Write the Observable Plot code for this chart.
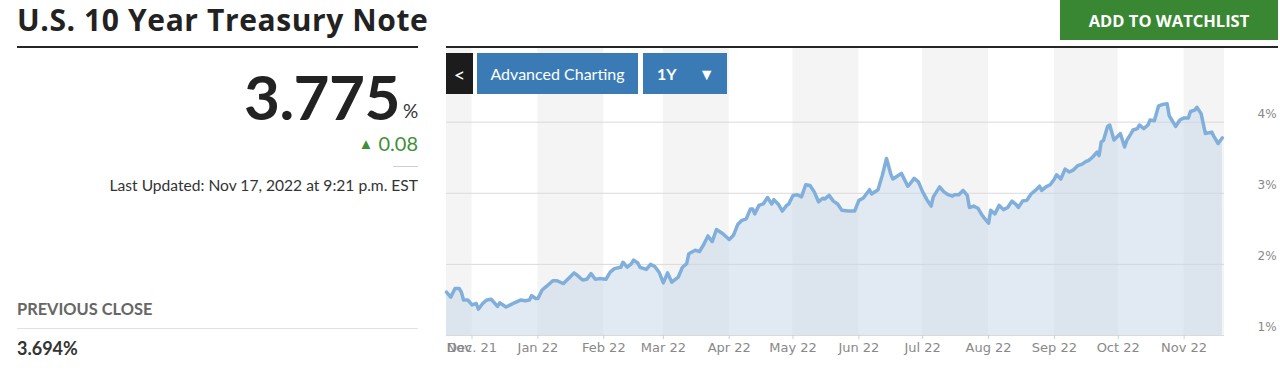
<!DOCTYPE html>
<html><head><meta charset="utf-8">
<script src="https://cdn.jsdelivr.net/npm/d3@7"></script>
<script src="https://cdn.jsdelivr.net/npm/@observablehq/plot@0.6"></script>
<style>
html,body{margin:0;padding:0;background:#fff;}
body{width:1280px;height:375px;overflow:hidden;position:relative;font-family:Lato,"Open Sans",sans-serif;}
.a{position:absolute;white-space:nowrap;line-height:1;}
.btn{position:absolute;display:flex;align-items:center;justify-content:center;color:#fff;}
</style></head><body>
<div class="a" style="left:17px;top:5px;font-family:'Open Sans';font-size:30px;font-weight:700;color:#222;letter-spacing:0.6px">U.S. 10 Year Treasury Note</div>
<div class="a" style="left:17px;top:46px;width:401px;height:2px;background:#262626"></div>
<div class="a" style="right:880px;top:65px;font-size:62px;font-weight:700;color:#222;letter-spacing:-0.5px">3.775</div>
<div class="a" style="left:403px;top:101px;font-size:19px;color:#333">%</div>
<div class="a" style="right:862px;top:133px;font-size:20px;color:#3f8f3a"><span style="font-size:15px;vertical-align:2px">▲</span> 0.08</div>
<div class="a" style="left:393px;top:166px;width:25px;height:1px;background:#cfcfcf"></div>
<div class="a" style="right:862px;top:178px;font-size:15.6px;color:#333">Last Updated: Nov 17, 2022 at 9:21 p.m. EST</div>
<div class="a" style="left:17px;top:301px;font-size:16.4px;font-weight:700;color:#666">PREVIOUS CLOSE</div>
<div class="a" style="left:17px;top:328px;width:401px;height:1px;background:#e2e2e2"></div>
<div class="a" style="left:17px;top:339px;font-size:18px;font-weight:700;color:#333">3.694%</div>

<div class="btn" style="left:1060px;top:0;width:218px;height:40px;background:#3a8733;font-family:'Open Sans';font-size:16.5px;font-weight:700">ADD TO WATCHLIST</div>
<div id="chart" class="a" style="left:446px;top:47px"></div>
<div class="a" style="left:446px;top:46px;width:832px;height:2px;background:#262626"></div>
<div class="btn" style="left:446px;top:53px;width:27px;height:41px;background:#1c1c1c;font-size:20px">&lt;</div>
<div class="btn" style="left:477px;top:53px;width:161px;height:41px;background:#3b7bb5;font-size:16px">Advanced Charting</div>
<div class="btn" style="left:643px;top:53px;width:84px;height:41px;background:#3b7bb5;font-size:16px;font-weight:700;justify-content:flex-start"><span style="margin-left:14px">1Y</span><span style="margin-left:22px;font-size:16px">▼</span></div>

<script>
const dates = ["2021-11-19","2021-11-21","2021-11-23","2021-11-25","2021-11-26","2021-11-27","2021-11-29","2021-12-01","2021-12-03","2021-12-04","2021-12-06","2021-12-08","2021-12-10","2021-12-13","2021-12-14","2021-12-17","2021-12-19","2021-12-21","2021-12-24","2021-12-26","2021-12-28","2021-12-29","2021-12-31","2022-01-01","2022-01-03","2022-01-05","2022-01-08","2022-01-10","2022-01-13","2022-01-16","2022-01-18","2022-01-19","2022-01-22","2022-01-24","2022-01-26","2022-01-28","2022-01-30","2022-02-02","2022-02-04","2022-02-06","2022-02-09","2022-02-10","2022-02-12","2022-02-14","2022-02-15","2022-02-17","2022-02-18","2022-02-21","2022-02-23","2022-02-25","2022-02-27","2022-03-01","2022-03-03","2022-03-05","2022-03-08","2022-03-10","2022-03-12","2022-03-13","2022-03-16","2022-03-18","2022-03-20","2022-03-22","2022-03-24","2022-03-26","2022-03-29","2022-04-01","2022-04-03","2022-04-05","2022-04-07","2022-04-09","2022-04-11","2022-04-12","2022-04-13","2022-04-15","2022-04-17","2022-04-19","2022-04-21","2022-04-22","2022-04-24","2022-04-26","2022-04-28","2022-04-29","2022-05-01","2022-05-03","2022-05-05","2022-05-07","2022-05-09","2022-05-11","2022-05-13","2022-05-15","2022-05-16","2022-05-18","2022-05-20","2022-05-22","2022-05-24","2022-05-27","2022-05-30","2022-06-01","2022-06-03","2022-06-06","2022-06-07","2022-06-10","2022-06-12","2022-06-14","2022-06-16","2022-06-17","2022-06-19","2022-06-21","2022-06-22","2022-06-24","2022-06-25","2022-06-27","2022-06-29","2022-07-01","2022-07-03","2022-07-05","2022-07-06","2022-07-09","2022-07-11","2022-07-13","2022-07-15","2022-07-16","2022-07-18","2022-07-20","2022-07-22","2022-07-23","2022-07-25","2022-07-27","2022-07-29","2022-07-30","2022-08-01","2022-08-02","2022-08-04","2022-08-06","2022-08-08","2022-08-10","2022-08-12","2022-08-14","2022-08-15","2022-08-17","2022-08-19","2022-08-21","2022-08-23","2022-08-25","2022-08-26","2022-08-28","2022-08-30","2022-09-01","2022-09-02","2022-09-04","2022-09-06","2022-09-08","2022-09-10","2022-09-12","2022-09-14","2022-09-16","2022-09-17","2022-09-19","2022-09-21","2022-09-22","2022-09-23","2022-09-24","2022-09-26","2022-09-27","2022-09-29","2022-10-01","2022-10-02","2022-10-04","2022-10-05","2022-10-07","2022-10-08","2022-10-10","2022-10-11","2022-10-13","2022-10-15","2022-10-16","2022-10-18","2022-10-20","2022-10-22","2022-10-24","2022-10-25","2022-10-28","2022-10-30","2022-11-01","2022-11-03","2022-11-04","2022-11-06","2022-11-07","2022-11-09","2022-11-11","2022-11-14","2022-11-15","2022-11-17","2022-11-19"];
const yields = [1.61,1.54,1.66,1.66,1.61,1.50,1.50,1.43,1.45,1.37,1.45,1.50,1.51,1.41,1.46,1.40,1.43,1.46,1.50,1.49,1.50,1.56,1.52,1.52,1.64,1.69,1.77,1.77,1.73,1.82,1.88,1.86,1.78,1.79,1.87,1.79,1.80,1.79,1.89,1.94,1.96,2.03,1.96,2.01,2.06,2.02,1.96,1.93,2.00,1.97,1.89,1.74,1.88,1.75,1.82,1.96,2.01,2.15,2.20,2.18,2.28,2.40,2.32,2.49,2.43,2.35,2.41,2.56,2.62,2.64,2.78,2.78,2.71,2.83,2.85,2.94,2.85,2.91,2.85,2.75,2.83,2.85,2.97,2.98,2.95,3.12,3.11,3.02,2.88,2.93,2.92,2.97,2.89,2.85,2.76,2.75,2.75,2.90,2.93,3.05,2.99,3.05,3.25,3.49,3.27,3.20,3.24,3.28,3.22,3.10,3.13,3.21,3.16,3.02,2.91,2.82,2.95,3.09,3.02,2.98,2.96,2.98,2.98,3.04,2.97,2.80,2.82,2.79,2.69,2.65,2.58,2.76,2.71,2.83,2.77,2.80,2.89,2.84,2.80,2.89,2.90,2.99,3.04,3.10,3.04,3.09,3.12,3.20,3.26,3.20,3.34,3.30,3.33,3.39,3.41,3.45,3.46,3.51,3.58,3.53,3.72,3.74,3.94,3.96,3.75,3.81,3.84,3.65,3.74,3.84,3.89,3.91,3.96,3.91,3.96,4.03,4.02,4.23,4.25,4.26,4.09,3.94,4.03,4.06,4.06,4.15,4.17,4.21,4.12,3.84,3.86,3.80,3.70,3.78];

const xDomain = ["2021-11-19","2022-11-20"];
const yDomain = [1, 5.05];
const monthTicks = ["2021-12-01","2022-01-01","2022-02-01","2022-03-01","2022-04-01","2022-05-01","2022-06-01","2022-07-01","2022-08-01","2022-09-01","2022-10-01","2022-11-01"];
const monthLabels = ["Dec. 21","Jan 22","Feb 22","Mar 22","Apr 22","May 22","Jun 22","Jul 22","Aug 22","Sep 22","Oct 22","Nov 22"];
const startLabel = "Nov";
const bandStarts = ["2021-11-19","2022-01-01","2022-03-01","2022-05-01","2022-07-01","2022-09-01","2022-11-01"];
const bandEnds = ["2021-12-01","2022-02-01","2022-04-01","2022-06-01","2022-08-01","2022-10-01","2022-11-20"];
const yTicks = [1, 2, 3, 4];

const data = dates.map((d, i) => ({date: new Date(d), value: yields[i]}));
const bands = bandStarts.map((s, i) => ({x1: new Date(s), x2: new Date(bandEnds[i])}));
const tickDates = monthTicks.map(d => new Date(d));
const labelMap = new Map(tickDates.map((d, i) => [+d, monthLabels[i]]));

const chart = Plot.plot({
  width: 834, height: 328,
  marginLeft: 0, marginRight: 56, marginTop: 0, marginBottom: 40,
  x: {type: "utc", domain: xDomain.map(d => new Date(d)), label: null},
  y: {domain: yDomain, label: null},
  style: {fontFamily: "DejaVu Sans", fontSize: "13px", color: "#888", background: "transparent", overflow: "visible"},
  marks: [
    Plot.rect(bands, {x1: "x1", x2: "x2", fill: "#f4f4f4"}),
    Plot.gridY(yTicks, {stroke: "#dadada", strokeOpacity: 1}),
    Plot.areaY(data, {x: "date", y1: yDomain[0], y2: "value", fill: "#c3d6e8", fillOpacity: 0.5}),
    Plot.lineY(data, {x: "date", y: "value", stroke: "#80afdb", strokeWidth: 3.5, strokeLinejoin: "round", strokeLinecap: "round"}),
    Plot.axisX(tickDates, {tickFormat: d => labelMap.get(+d), tickSize: 4, tickPadding: 3, stroke: "#cfcfcf", fill: "#888", label: null}),
    Plot.axisX([new Date(xDomain[0])], {tickFormat: () => startLabel, tickSize: 0, tickPadding: 7, textAnchor: "start", fill: "#888", label: null}),
    Plot.axisY(yTicks, {anchor: "right", tickSize: 0, tickPadding: 33, tickFormat: d => d + "%", dy: -8, fontSize: 12, textAnchor: "start", fill: "#888", label: null})
  ]
});
document.getElementById("chart").appendChild(chart);
</script>
</body></html>
